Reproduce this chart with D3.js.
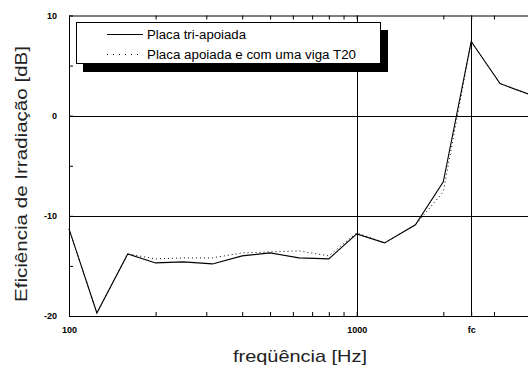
<!DOCTYPE html>
<html>
<head>
<meta charset="utf-8">
<script src="https://cdn.jsdelivr.net/npm/d3@7"></script>
<style>
  body { margin: 0; background: #fff; }
  svg { display: block; font-family: "Liberation Sans", Arial, sans-serif; }
</style>
</head>
<body>
<div id="chart"></div>
<script>
// third-octave band centre frequencies [Hz]
const freqs = [100, 125, 160, 200, 250, 315, 400, 500, 630, 800, 1000, 1250, 1600, 2000, 2500, 3150, 4000];
// radiation efficiency [dB]
const triApoiada = [-11.3, -19.7, -13.8, -14.7, -14.6, -14.8, -14.0, -13.7, -14.2, -14.3, -11.8, -12.7, -10.9, -6.6, 7.4, 3.2, 2.1];
const comViga = [-11.3, -19.7, -13.8, -14.3, -14.2, -14.2, -13.7, -13.6, -13.5, -14.0, -11.7, -12.7, -10.9, -7.6, 7.4, 3.2, 2.1];
const seriesNames = ["Placa tri-apoiada", "Placa apoiada e com uma viga T20"];
const fc = 2500;
const xTicks = [100, 200, 300, 400, 500, 600, 700, 800, 900, 1000, 2000, fc, 3000, 4000, 5000];
const xLabels = { 100: "100", 1000: "1000", [fc]: "fc" };
const yTicks = [-20, -15, -10, -5, 0, 5, 10];
const xGrid = [1000, fc];
const yGrid = [0, -10];

const width = 528, height = 371;
const plotLeft = 69, plotTop = 15.5, plotBottom = 316;
const decade = 287.7;

const svg = d3.select("#chart").append("svg")
    .attr("width", width)
    .attr("height", height);

const x = d3.scaleLog().domain([100, 10000]).range([plotLeft, plotLeft + 2 * decade]);
const y = d3.scaleLinear().domain([-20, 10]).range([plotBottom, plotTop]);

// grid lines
svg.append("g").selectAll("line").data(xGrid).join("line")
    .attr("x1", d => Math.round(x(d)) + 0.5).attr("x2", d => Math.round(x(d)) + 0.5)
    .attr("y1", plotTop).attr("y2", plotBottom)
    .attr("stroke", "#000");

svg.append("g").selectAll("line").data(yGrid).join("line")
    .attr("x1", plotLeft).attr("x2", width)
    .attr("y1", d => Math.round(y(d)) + 0.5).attr("y2", d => Math.round(y(d)) + 0.5)
    .attr("stroke", "#000");

// axes (ticks pointing inwards)
svg.append("g")
    .attr("transform", `translate(0,${plotBottom})`)
    .call(d3.axisBottom(x).tickValues(xTicks).tickSize(-4).tickSizeOuter(0).tickPadding(11)
        .tickFormat(d => xLabels[d] || ""));

svg.append("g")
    .attr("transform", `translate(0,${plotTop})`)
    .call(d3.axisTop(x).tickValues(xTicks).tickSize(-4).tickSizeOuter(0).tickFormat(""));

svg.append("g")
    .attr("transform", `translate(${plotLeft},0)`)
    .call(d3.axisLeft(y).tickValues(yTicks).tickSize(-4).tickSizeOuter(0).tickPadding(12)
        .tickFormat(d => d % 10 === 0 ? String(d) : ""));

svg.selectAll(".domain, .tick line").attr("stroke", "#000").attr("stroke-width", 1);
svg.selectAll(".tick text")
    .attr("font-family", "'Liberation Sans', Arial, sans-serif")
    .attr("font-size", 9)
    .attr("font-weight", "bold")
    .attr("fill", "#000");

// series
const line = d3.line().x((d, i) => x(freqs[i])).y(d => y(d));

svg.append("path")
    .datum(comViga)
    .attr("fill", "none")
    .attr("stroke", "#000")
    .attr("stroke-width", 1)
    .attr("stroke-dasharray", "1,3")
    .attr("d", line);

svg.append("path")
    .datum(triApoiada)
    .attr("fill", "none")
    .attr("stroke", "#000")
    .attr("stroke-width", 1.1)
    .attr("d", line);

// legend
const lg = svg.append("g");
lg.append("rect").attr("x", 83).attr("y", 30).attr("width", 305).attr("height", 42).attr("fill", "#000");
lg.append("rect").attr("x", 76.5).attr("y", 22.5).attr("width", 304).attr("height", 41)
    .attr("fill", "#fff").attr("stroke", "#000");

const legendWidths = [99, 209];
seriesNames.forEach((name, i) => {
    const ly = 34.5 + i * 20;
    lg.append("line")
        .attr("x1", 107).attr("x2", 143)
        .attr("y1", ly).attr("y2", ly)
        .attr("stroke", "#000")
        .attr("stroke-dasharray", i === 1 ? "1,5" : null);
    lg.append("text")
        .attr("x", 147).attr("y", ly + 4.5)
        .attr("font-size", 12.5)
        .attr("textLength", legendWidths[i])
        .attr("lengthAdjust", "spacingAndGlyphs")
        .attr("fill", "#000")
        .text(name);
});

// axis titles
svg.append("text")
    .attr("transform", "translate(27,174) rotate(-90)")
    .attr("text-anchor", "middle")
    .attr("font-size", 17)
    .attr("textLength", 256)
    .attr("lengthAdjust", "spacingAndGlyphs")
    .attr("fill", "#222")
    .text("Eficiência de Irradiação [dB]");

svg.append("text")
    .attr("x", 300).attr("y", 362)
    .attr("text-anchor", "middle")
    .attr("font-size", 17)
    .attr("textLength", 134)
    .attr("lengthAdjust", "spacingAndGlyphs")
    .attr("fill", "#222")
    .text("freqüência [Hz]");
</script>
</body>
</html>
